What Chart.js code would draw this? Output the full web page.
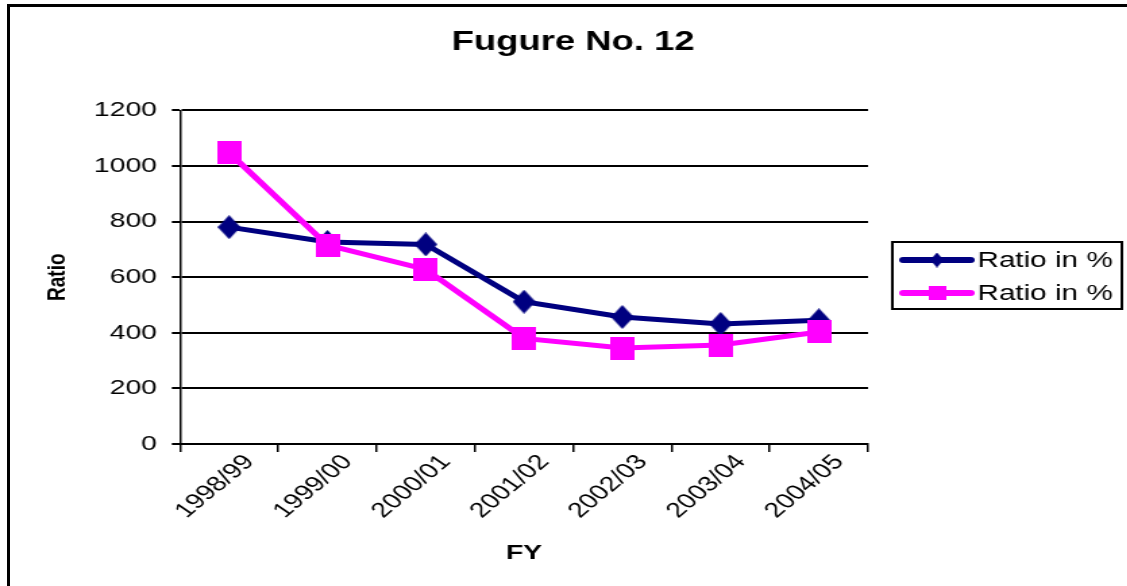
<!DOCTYPE html>
<html>
<head>
<meta charset="utf-8">
<title>Fugure No. 12</title>
<script src="https://cdn.jsdelivr.net/npm/chart.js@4.4.1/dist/chart.umd.min.js"></script>
<style>
  html, body { margin: 0; padding: 0; background: #fff; overflow: hidden; width: 1127px; height: 586px; }
  #frame { position: absolute; left: 7px; top: 4px; width: 1200px; height: 700px; border: 3px solid #000; box-sizing: border-box; }
  #wrap { position: absolute; left: 0; top: 0; width: 835px; height: 586px; transform: scaleX(1.35); transform-origin: 0 0; }
  canvas { display: block; }
</style>
</head>
<body>
<div id="frame"></div>
<div id="wrap"><canvas id="c" width="835" height="586" style="width:835px;height:586px"></canvas></div>
<script>
// Fiscal years on the category axis
const categories = ['1998/99', '1999/00', '2000/01', '2001/02', '2002/03', '2003/04', '2004/05'];
// Two series, both labelled "Ratio in %"
const ratioNavy = [780, 727, 718, 512, 457, 432, 445];
const ratioMagenta = [1048, 715, 628, 380, 345, 356, 403];
// Value-axis tick labels
const yTicks = [0, 200, 400, 600, 800, 1000, 1200];

const FONT = "'Liberation Sans', Arial, Helvetica, sans-serif";
const NAVY = '#000080';
const MAGENTA = '#FF00FF';

// Small bitmap markers (the canvas is widened by CSS, so they are drawn narrower here)
function marker(shape, w, h, color) {
  const c = document.createElement('canvas');
  c.width = w; c.height = h;
  const g = c.getContext('2d');
  g.fillStyle = color;
  if (shape === 'diamond') {
    g.beginPath();
    g.moveTo(w / 2, 0); g.lineTo(w, h / 2); g.lineTo(w / 2, h); g.lineTo(0, h / 2);
    g.closePath(); g.fill();
  } else {
    g.fillRect(0, 0, w, h);
  }
  return c;
}
const diamondPt = marker('diamond', 17, 24, NAVY);
const squarePt = marker('square', 18, 23, MAGENTA);
const diamondKey = marker('diamond', 10, 15, NAVY);
const squareKey = marker('square', 13, 14, MAGENTA);

// Boxed legend at the right: a line sample with its marker, then the label
const boxedLegend = {
  id: 'boxedLegend',
  afterDraw(chart, args, opts) {
    const ctx = chart.ctx;
    const keys = [diamondKey, squareKey];
    ctx.save();
    ctx.lineWidth = 2;
    ctx.strokeStyle = '#000';
    ctx.strokeRect(opts.left, opts.top, opts.right - opts.left, opts.bottom - opts.top);
    ctx.font = '22px ' + FONT;
    ctx.textBaseline = 'middle';
    ctx.textAlign = 'left';
    chart.data.datasets.forEach((ds, i) => {
      const y = opts.firstY + i * opts.rowGap;
      ctx.beginPath();
      ctx.lineCap = 'round';
      ctx.lineWidth = 6;
      ctx.strokeStyle = ds.borderColor;
      ctx.moveTo(opts.lineX0, y);
      ctx.lineTo(opts.lineX1, y);
      ctx.stroke();
      const k = keys[i];
      ctx.drawImage(k, (opts.lineX0 + opts.lineX1) / 2 - k.width / 2, y - k.height / 2);
      ctx.fillStyle = '#000';
      ctx.fillText(ds.label, opts.textX, y + 1);
    });
    ctx.restore();
  }
};

new Chart(document.getElementById('c'), {
  type: 'line',
  data: {
    labels: categories,
    datasets: [
      {
        label: 'Ratio in %',
        data: ratioNavy,
        borderColor: NAVY,
        backgroundColor: NAVY,
        borderWidth: 5,
        pointStyle: diamondPt,
        pointRadius: 10,
        tension: 0,
        order: 1
      },
      {
        label: 'Ratio in %',
        data: ratioMagenta,
        borderColor: MAGENTA,
        backgroundColor: MAGENTA,
        borderWidth: 5,
        pointStyle: squarePt,
        pointRadius: 10,
        tension: 0,
        order: 0
      }
    ]
  },
  options: {
    responsive: false,
    animation: false,
    events: [],
    layout: { padding: { left: 14, right: 0, top: 0, bottom: 0 } },
    plugins: {
      legend: { display: false },
      tooltip: { enabled: false },
      title: {
        display: true,
        text: 'Fugure No. 12',
        color: '#000',
        font: { family: FONT, size: 27, weight: 'bold', lineHeight: 1.2 },
        padding: { top: 26, bottom: 52 }
      },
      boxedLegend: {
        left: 661, right: 831, top: 242, bottom: 309,
        lineX0: 669, lineX1: 719, textX: 724, firstY: 260, rowGap: 33
      }
    },
    scales: {
      x: {
        type: 'category',
        offset: true,
        grid: { offset: true, drawOnChartArea: false, drawTicks: true, tickLength: 8, color: '#000', lineWidth: 1.5 },
        border: { display: true, color: '#000', width: 2 },
        ticks: { color: '#000', font: { family: FONT, size: 21 }, minRotation: 48, maxRotation: 48, autoSkip: false, padding: -2, labelOffset: 15 },
        title: { display: true, text: 'FY', color: '#000', font: { family: FONT, size: 21, weight: 'bold', lineHeight: 1.2 }, padding: { top: 0, bottom: 20 } },
        afterFit: s => { s.height = 142; }
      },
      y: {
        type: 'linear',
        min: 0,
        max: 1200,
        afterBuildTicks: s => { s.ticks = yTicks.map(v => ({ value: v })); },
        ticks: { color: '#000', font: { family: FONT, size: 21 }, padding: 11, callback: v => String(v) },
        grid: { color: '#000', lineWidth: 2, tickLength: 6, drawTicks: true },
        border: { display: true, color: '#000', width: 1.5 },
        title: { display: true, text: 'Ratio', color: '#000', font: { family: FONT, size: 19, weight: 'bold', lineHeight: 1.2 }, padding: { top: 17, bottom: 0 } },
        afterFit: s => { s.width = 119.3; }
      },
      legendSpace: {
        type: 'linear',
        position: 'right',
        display: true,
        grid: { display: false, drawTicks: false },
        ticks: { display: false },
        border: { display: false },
        afterFit: s => { s.width = 192; }
      }
    }
  },
  plugins: [boxedLegend]
});
</script>
</body>
</html>
